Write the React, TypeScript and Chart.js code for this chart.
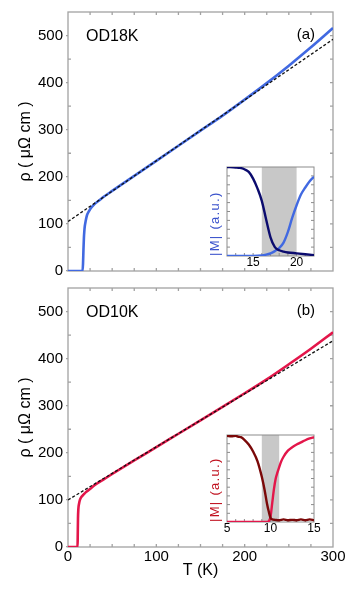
import React, { useEffect, useRef } from 'react';
import { Chart, registerables } from 'chart.js';

Chart.register(...registerables);

const FONT = "'Liberation Sans', Arial, Helvetica, sans-serif";
Chart.defaults.font.family = FONT;

// ---------- data ----------
// Panel (a) OD18K : resistivity
const T18 = [0, 16.5, 17, 17.5, 18, 18.5, 19, 20, 21, 22, 25, 30, 36, 40, 50, 75, 100, 125, 150, 175, 200, 225, 250, 275, 300];
const R18 = [0, 0, 15, 45, 70, 85, 95, 106, 115, 121, 131, 142, 151, 157, 170, 202, 234, 266, 298, 330, 364, 399, 436, 475, 516];
const FIT18_T = [0, 300];
const FIT18_R = [105, 492];

// Panel (b) OD10K : resistivity
const T10 = [0, 10.8, 11, 11.3, 11.7, 12.5, 13.5, 15, 17.5, 20, 25, 30, 40, 50, 75, 100, 125, 150, 175, 200, 225, 250, 275, 300];
const R10 = [0, 0, 20, 60, 80, 92, 100, 106, 111, 116, 123, 131, 143, 155, 184, 212, 240.5, 269, 297.5, 326.5, 356, 388, 421, 456];
const FIT10_T = [0, 300];
const FIT10_R = [100, 438];

// Inset (a)
const IN18_DARK_T = [12, 13, 13.5, 14, 14.5, 15, 15.5, 16, 16.5, 17, 17.5, 18, 18.5, 19, 20, 21, 22];
const IN18_DARK_M = [1.0, 0.995, 0.99, 0.975, 0.945, 0.87, 0.76, 0.62, 0.41, 0.21, 0.1, 0.065, 0.05, 0.04, 0.03, 0.02, 0.01];
const IN18_LIGHT_T = [12, 15, 16, 16.5, 17, 17.5, 18, 18.5, 19, 19.5, 20, 20.5, 21, 21.5, 22];
const IN18_LIGHT_M = [0, 0, 0.005, 0.015, 0.03, 0.055, 0.09, 0.15, 0.27, 0.43, 0.57, 0.69, 0.77, 0.84, 0.89];
const IN18_XTICKS = [15, 20];
const BAND18 = [16, 20];

// Inset (b)
const IN10_DARK_T = [5, 5.5, 6, 6.3, 6.6, 7, 7.5, 8, 8.5, 9, 9.3, 9.6, 9.8, 10, 10.2, 10.5, 11, 11.5, 12, 12.5, 13, 13.5, 14, 14.5, 15];
const IN10_DARK_M = [0.99, 0.985, 0.99, 0.98, 0.975, 0.945, 0.89, 0.81, 0.7, 0.52, 0.38, 0.21, 0.12, 0.05, 0.03, 0.025, 0.02, 0.03, 0.02, 0.025, 0.02, 0.03, 0.02, 0.03, 0.02];
const IN10_LIGHT_T = [5, 9.6, 9.8, 10, 10.2, 10.4, 10.6, 10.8, 11, 11.2, 11.5, 12, 12.5, 13, 13.5, 14, 14.5, 15];
const IN10_LIGHT_M = [0, 0, 0.01, 0.06, 0.22, 0.38, 0.5, 0.57, 0.63, 0.69, 0.75, 0.82, 0.86, 0.89, 0.915, 0.94, 0.96, 0.975];
const IN10_XTICKS = [5, 10, 15];
const BAND10 = [9, 11];

const MAIN_Y_TICKS = [0, 100, 200, 300, 400, 500];
const MAIN_X_TICKS = [0, 100, 200, 300];

// ---------- styles ----------
const BLUE = '#4169e1';
const NAVY = '#0b0b6e';
const RED = '#e3164a';
const DARKRED = '#7a0808';
const FRAME = '#a2a2a2';

const pts = (xs: number[], ys: number[]) => xs.map((x, i) => ({ x, y: ys[i] }));
const setTicks = (vals: number[]) => (s: any) => { s.ticks = vals.map((v) => ({ value: v })); };

const panelDeco = {
  id: 'panelDeco',
  beforeDatasetsDraw(chart: any, _a: any, o: any) {
    const { ctx, chartArea: a } = chart;
    const xs = chart.scales.x, ys = chart.scales.y;
    const L = 3;
    ctx.save();
    ctx.strokeStyle = FRAME;
    ctx.lineWidth = 1.3;
    ctx.beginPath();
    for (let i = 1; ; i++) {
      const v = xs.min + i * 25;
      if (v >= xs.max - 1e-6) break;
      const p = xs.getPixelForValue(v);
      ctx.moveTo(p, a.top); ctx.lineTo(p, a.top + L);
      ctx.moveTo(p, a.bottom); ctx.lineTo(p, a.bottom - L);
    }
    for (let i = 1; ; i++) {
      const v = ys.min + i * 50;
      if (v >= ys.max - 1e-6) break;
      const p = ys.getPixelForValue(v);
      ctx.moveTo(a.right, p); ctx.lineTo(a.right - L, p);
      if (Math.round(v) % 100 !== 0) { ctx.moveTo(a.left, p); ctx.lineTo(a.left + L, p); }
    }
    ctx.stroke();
    ctx.strokeRect(a.left, a.top, a.right - a.left, a.bottom - a.top);
    ctx.fillStyle = '#000';
    ctx.textBaseline = 'middle';
    ctx.font = `16px ${FONT}`;
    ctx.textAlign = 'left';
    ctx.fillText(o.name, a.left + 18, a.top + 24.5);
    ctx.font = `15px ${FONT}`;
    ctx.textAlign = 'right';
    ctx.fillText(o.letter, a.right - 18, a.top + 23);
    ctx.restore();
  },
};

const insetDeco = {
  id: 'insetDeco',
  beforeDatasetsDraw(chart: any, _a: any, o: any) {
    const { ctx, chartArea: a } = chart;
    const xs = chart.scales.x, ys = chart.scales.y;
    ctx.save();
    ctx.fillStyle = '#fff';
    ctx.fillRect(a.left, a.top, a.right - a.left, a.bottom - a.top);
    const x0 = xs.getPixelForValue(o.band[0]);
    const x1 = xs.getPixelForValue(o.band[1]);
    ctx.fillStyle = '#c8c8c8';
    ctx.fillRect(x0, a.top, x1 - x0, a.bottom - a.top);
    ctx.strokeStyle = '#8c8c8c';
    ctx.lineWidth = 1;
    ctx.beginPath();
    for (let i = 1; i < 10; i++) {
      const p = ys.getPixelForValue(i / 10);
      ctx.moveTo(a.left, p); ctx.lineTo(a.left + 3, p);
      ctx.moveTo(a.right, p); ctx.lineTo(a.right - 3, p);
    }
    for (let v = Math.ceil(xs.min) + 1; v < xs.max; v++) {
      const p = xs.getPixelForValue(v);
      ctx.moveTo(p, a.bottom); ctx.lineTo(p, a.bottom - 3);
    }
    ctx.stroke();
    ctx.strokeRect(a.left, a.top, a.right - a.left, a.bottom - a.top);
    ctx.translate(o.labelX, a.bottom);
    ctx.rotate(-Math.PI / 2);
    ctx.font = `13px ${FONT}`;
    try { (ctx as any).letterSpacing = '1.3px'; } catch (e) {}
    ctx.fillStyle = o.labelColor;
    ctx.textAlign = 'left';
    ctx.textBaseline = 'middle';
    ctx.fillText(o.label, 0, 0);
    ctx.restore();
  },
};

function mainConfig(opts: {
  T: number[]; R: number[]; fitT: number[]; fitR: number[]; color: string;
  name: string; letter: string; bottom: boolean;
}): any {
  const { T, R, fitT, fitR, color, name, letter, bottom } = opts;
  return {
    type: 'scatter',
    data: {
      datasets: [
        {
          data: pts(fitT, fitR), showLine: true, borderColor: '#111', borderWidth: 1.3,
          borderDash: [3, 2], pointRadius: 0,
        },
        {
          data: pts(T, R), showLine: true, borderColor: color, borderWidth: 2.6,
          pointRadius: 0, cubicInterpolationMode: 'monotone',
        },
      ],
    },
    options: {
      animation: false,
      responsive: false,
      events: [],
      layout: { padding: { top: bottom ? 7 : 8, right: 28, left: 0, bottom: bottom ? 0 : 10 } },
      plugins: {
        legend: { display: false },
        tooltip: { enabled: false },
        panelDeco: { name, letter },
      },
      scales: {
        x: bottom
          ? {
              type: 'linear', min: 0, max: 300,
              afterBuildTicks: setTicks(MAIN_X_TICKS),
              afterFit: (s: any) => { s.height = 45; },
              ticks: { padding: 1, color: '#000', font: { size: 15 }, maxRotation: 0, autoSkip: false },
              grid: { display: false, drawTicks: false },
              border: { display: false },
              title: { display: true, text: 'T (K)', color: '#000', font: { size: 16 }, padding: { top: 0, bottom: 12 } },
            }
          : { type: 'linear', min: 0, max: 300, display: false },
        y: {
          type: 'linear', min: 0, max: 550,
          afterBuildTicks: setTicks(MAIN_Y_TICKS),
          afterFit: (s: any) => { s.width = 68; },
          ticks: { padding: 3, color: '#000', font: { size: 15 }, autoSkip: false },
          grid: { display: true, drawOnChartArea: false, drawTicks: true, tickLength: 2, color: FRAME, lineWidth: 1.3 },
          border: { display: false },
          title: { display: true, text: 'ρ ( μΩ cm )', color: '#000', font: { size: 16 }, padding: { top: 15.5, bottom: 0 } },
        },
      },
    },
    plugins: [panelDeco],
  };
}

function insetConfig(opts: {
  darkT: number[]; darkM: number[]; lightT: number[]; lightM: number[];
  dark: string; light: string; min: number; max: number; band: number[]; xticks: number[];
  labelColor: string; axisH: number;
}): any {
  const o = opts;
  return {
    type: 'scatter',
    data: {
      datasets: [
        { data: pts(o.darkT, o.darkM), showLine: true, borderColor: o.dark, borderWidth: 2.4, pointRadius: 0, cubicInterpolationMode: 'monotone' },
        { data: pts(o.lightT, o.lightM), showLine: true, borderColor: o.light, borderWidth: 2.4, pointRadius: 0, cubicInterpolationMode: 'monotone' },
      ],
    },
    options: {
      animation: false,
      responsive: false,
      events: [],
      layout: { padding: { top: 7, right: 11, left: 0, bottom: 0 } },
      plugins: {
        legend: { display: false },
        tooltip: { enabled: false },
        insetDeco: { band: o.band, label: '|M| (a.u.)', labelColor: o.labelColor, labelX: 15.7 },
      },
      scales: {
        x: {
          type: 'linear', min: o.min, max: o.max,
          afterBuildTicks: setTicks(o.xticks),
          afterFit: (s: any) => { s.height = o.axisH; },
          ticks: { padding: 0, color: '#000', font: { size: 12, lineHeight: 1.1 }, maxRotation: 0, autoSkip: false },
          grid: { display: false, drawTicks: false },
          border: { display: false },
        },
        y: {
          type: 'linear', min: 0, max: 1,
          afterFit: (s: any) => { s.width = 27; },
          ticks: { display: false },
          grid: { display: false, drawTicks: false },
          border: { display: false },
        },
      },
    },
    plugins: [insetDeco],
  };
}

function ChartCanvas(props: { make: () => any; left: number; top: number; width: number; height: number }) {
  const ref = useRef<HTMLCanvasElement>(null);
  useEffect(() => {
    const chart = new Chart(ref.current as HTMLCanvasElement, props.make());
    return () => chart.destroy();
  }, []);
  return (
    <canvas
      ref={ref}
      width={props.width}
      height={props.height}
      style={{ position: 'absolute', left: props.left, top: props.top, width: props.width, height: props.height }}
    />
  );
}

export default function App() {
  return (
    <div style={{ position: 'absolute', left: 0, top: 0, width: 361, height: 592, background: '#fff', overflow: 'hidden' }}>
      <ChartCanvas
        left={0} top={0} width={361} height={283}
        make={() => mainConfig({ T: T18, R: R18, fitT: FIT18_T, fitR: FIT18_R, color: BLUE, name: 'OD18K', letter: '(a)', bottom: false })}
      />
      <ChartCanvas
        left={0} top={276} width={361} height={316}
        make={() => mainConfig({ T: T10, R: R10, fitT: FIT10_T, fitR: FIT10_R, color: RED, name: 'OD10K', letter: '(b)', bottom: true })}
      />
      <ChartCanvas
        left={200} top={160} width={125} height={115}
        make={() => insetConfig({
          darkT: IN18_DARK_T, darkM: IN18_DARK_M, lightT: IN18_LIGHT_T, lightM: IN18_LIGHT_M,
          dark: NAVY, light: BLUE, min: 12, max: 22, band: BAND18, xticks: IN18_XTICKS, labelColor: '#3a52cc', axisH: 19,
        })}
      />
      <ChartCanvas
        left={200} top={428} width={125} height={115}
        make={() => insetConfig({
          darkT: IN10_DARK_T, darkM: IN10_DARK_M, lightT: IN10_LIGHT_T, lightM: IN10_LIGHT_M,
          dark: DARKRED, light: RED, min: 5, max: 15, band: BAND10, xticks: IN10_XTICKS, labelColor: '#c0101e', axisH: 21,
        })}
      />
    </div>
  );
}
